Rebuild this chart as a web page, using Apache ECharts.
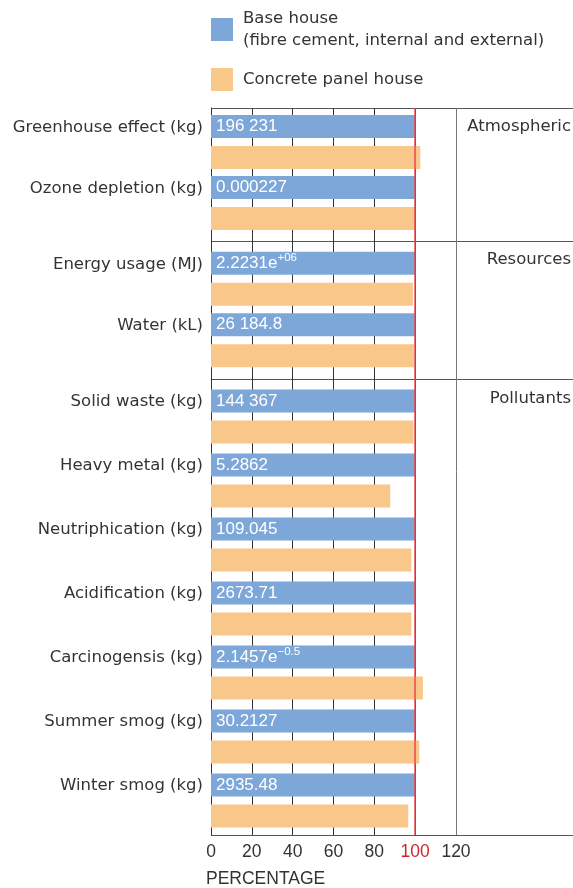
<!DOCTYPE html>
<html>
<head>
<meta charset="utf-8">
<script src="https://cdn.jsdelivr.net/npm/echarts@6/dist/echarts.min.js"></script>
<style>
html,body{margin:0;padding:0;background:#fff;}
#chart{width:573px;height:888px;}
</style>
</head>
<body>
<div id="chart"></div>
<script>
// categories, per group
var groupNames = ['Atmospheric', 'Resources', 'Pollutants'];
var catAtmos = ['Greenhouse effect (kg)', 'Ozone depletion (kg)'];
var catRes = ['Energy usage (MJ)', 'Water (kL)'];
var catPoll = ['Solid waste (kg)', 'Heavy metal (kg)', 'Neutriphication (kg)', 'Acidification (kg)',
	'Carcinogensis (kg)', 'Summer smog (kg)', 'Winter smog (kg)'];
// percentage values (base house = 100)
var baseAtmos = [100, 100];
var baseRes = [100, 100];
var basePoll = [100, 100, 100, 100, 100, 100, 100];
var concAtmos = [102.5, 100];
var concRes = [98.9, 99.4];
var concPoll = [99.2, 87.8, 98.1, 98.1, 103.8, 102, 96.6];
// absolute values printed on the base bars (text + superscript)
var labAtmos = ['196 231', '0.000227'];
var supAtmos = ['', ''];
var labRes = ['2.2231e', '26 184.8'];
var supRes = ['+06', ''];
var labPoll = ['144 367', '5.2862', '109.045', '2673.71', '2.1457e', '30.2127', '2935.48'];
var supPoll = ['', '', '', '', '\u22120.5', '', ''];
var xTicks = [0, 20, 40, 60, 80, 100, 120];

var seriesBase = 'Base house\n(fibre cement, internal and external)';
var seriesConc = 'Concrete panel house';
var blue = '#7ca7d8', orange = '#fac78a';
var font = 'DejaVu Sans';
var numFont = 'Liberation Sans'; // narrower digits for the numbers
var fs = 16.5;
var txt = '#333';

var charts = echarts.init(document.getElementById('chart'));

// grid layout: background grid + one grid per group
var L = 211, W = 245;
var grids = [
	{left: L, width: W, top: 108, height: 727},
	{left: L, width: W, top: 111.5, height: 122},
	{left: L, width: W, top: 248, height: 123},
	{left: L, width: W, top: 384.5, height: 448}
];
var groups = [
	{cats: catAtmos, base: baseAtmos, conc: concAtmos, lab: labAtmos, sup: supAtmos},
	{cats: catRes, base: baseRes, conc: concRes, lab: labRes, sup: supRes},
	{cats: catPoll, base: basePoll, conc: concPoll, lab: labPoll, sup: supPoll}
];

var xAxes = [{
	gridIndex: 0, type: 'value', min: 0, max: 120, interval: 20,
	axisLine: {show: false}, axisTick: {show: false},
	axisLabel: {
		margin: 8, fontSize: 17.5, fontFamily: numFont,
		color: function(v){ return v == 100 ? '#d0262c' : txt; }
	},
	splitLine: {show: true, lineStyle: {color: ['#333','#333','#333','#333','#333','#333','#777'], width: 1}}
}];
var yAxes = [{
	gridIndex: 0, type: 'value', min: 0, max: 1,
	axisLine: {show: true, lineStyle: {color: '#333', width: 1}},
	axisTick: {show: false}, axisLabel: {show: false}, splitLine: {show: false}
}];
var series = [{
	// red reference line at 100 %
	type: 'line', xAxisIndex: 0, yAxisIndex: 0, data: [], z: 10,
	markLine: {
		silent: true, symbol: 'none', label: {show: false},
		lineStyle: {color: '#e8474c', width: 1.5, type: 'solid'},
		data: [{xAxis: 100}]
	}
}];

for (var i = 0; i < groups.length; i++) {
	var g = groups[i];
	xAxes.push({
		gridIndex: i + 1, type: 'value', min: 0, max: 120, show: false
	});
	yAxes.push({
		gridIndex: i + 1, type: 'category', inverse: true, data: g.cats,
		axisLine: {show: false}, axisTick: {show: false}, splitLine: {show: false},
		axisLabel: {
			margin: 8, fontSize: fs, fontFamily: font, color: txt,
			// label sits level with the blue bar, not the category centre
			verticalAlign: 'bottom', lineHeight: 29
		}
	});
	(function(g){
		series.push({
			name: seriesBase, type: 'bar', xAxisIndex: i + 1, yAxisIndex: i + 1,
			data: g.base, barWidth: 23, barGap: '35%', itemStyle: {color: blue},
			label: {
				show: true, position: 'insideLeft', distance: 5,
				formatter: function(p){
					var s = '{b|' + g.lab[p.dataIndex] + '}';
					if (g.sup[p.dataIndex]) s += '{s|' + g.sup[p.dataIndex] + '}';
					return s;
				},
				rich: {
					b: {color: '#fff', fontSize: 17, fontFamily: numFont},
					s: {color: '#fff', fontSize: 11.5, fontFamily: numFont, padding: [0, 0, 10, 0]}
				}
			}
		});
		series.push({
			name: seriesConc, type: 'bar', xAxisIndex: i + 1, yAxisIndex: i + 1,
			data: g.conc, barWidth: 23, barGap: '35%', itemStyle: {color: orange}
		});
	})(g);
}

// group separators and group names
var graphic = [];
var sepY = [108, 241, 379, 835];
for (var k = 0; k < sepY.length; k++) {
	graphic.push({
		type: 'line', silent: true,
		shape: {x1: L, y1: sepY[k] + 0.5, x2: 573, y2: sepY[k] + 0.5},
		style: {stroke: '#555', lineWidth: 1}
	});
}
var nameY = [127, 260, 399];
for (var k = 0; k < groupNames.length; k++) {
	graphic.push({
		type: 'text', silent: true, x: 571, y: nameY[k],
		style: {text: groupNames[k], fill: txt, font: fs + 'px "' + font + '"', align: 'right', verticalAlign: 'middle'}
	});
}

option = {
	animation: false,
	backgroundColor: '#fff',
	title: {
		text: 'PERCENTAGE', left: 206, top: 870, padding: 0,
		textStyle: {fontSize: 17.5, fontWeight: 'normal', color: txt, fontFamily: numFont}
	},
	legend: {
		orient: 'vertical', left: 211, top: 5.5, padding: 0,
		itemWidth: 22, itemHeight: 23, itemGap: 13, itemStyle: {borderWidth: 0},
		icon: 'rect',
		textStyle: {fontSize: fs, lineHeight: 22, color: txt, fontFamily: font, padding: [4, 0, 0, 5]},
		data: [seriesBase, seriesConc]
	},
	grid: grids,
	xAxis: xAxes,
	yAxis: yAxes,
	series: series,
	graphic: graphic
};
charts.setOption(option);
</script>
</body>
</html>
